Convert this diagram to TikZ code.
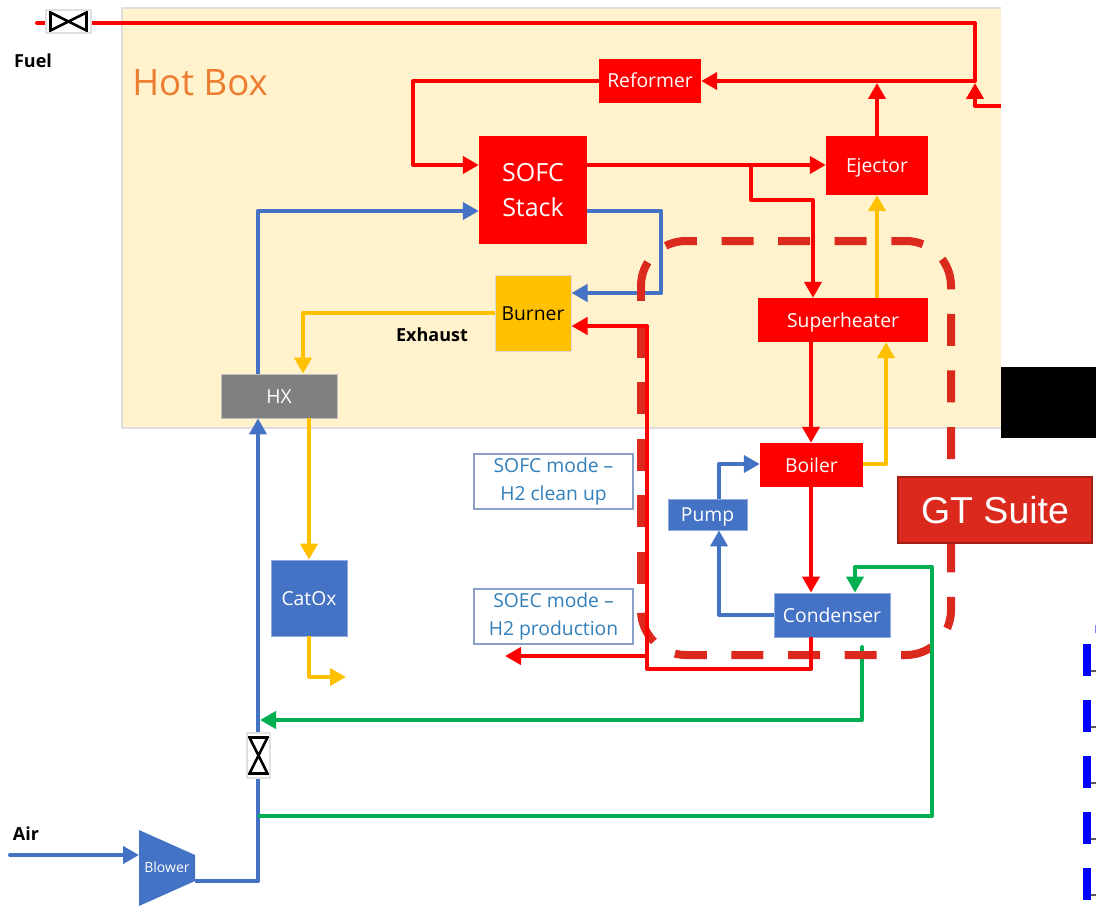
\documentclass[tikz,border=0pt]{standalone}
\usepackage{fontspec}
\setmainfont{Open Sans}
\newfontfamily\arialfont{Liberation Sans}
\usetikzlibrary{arrows.meta}
\definecolor{flowred}{HTML}{FF0000}
\definecolor{flowblue}{HTML}{4472C4}
\definecolor{flowyellow}{HTML}{FFC000}
\definecolor{flowgreen}{HTML}{00B050}
\definecolor{suitered}{HTML}{DC291E}
\definecolor{hotfill}{HTML}{FFF2CC}
\definecolor{hottext}{HTML}{ED7D31}
\tikzset{
  unit box/.style={
    rectangle, inner sep=0pt, text=white, font=\fontsize{19.3}{22}\selectfont,
    text height=18pt, text depth=4pt
  },
  red box/.style={unit box, fill=flowred},
  blue box/.style={unit box, fill=flowblue, draw=flowblue!60!white, line width=0.8pt},
  mode box/.style={
    rectangle, draw=flowblue!70!gray!70!white, fill=white, line width=1.2pt, inner sep=0pt,
    minimum width=159pt, minimum height=55pt, align=center, text=flowblue!80!cyan!90!black,
    font=\fontsize{19.3}{28}\selectfont
  },
  plain label/.style={inner sep=0pt, font=\bfseries\fontsize{18}{20}\selectfont},
  flow/.style={
    line width=4pt, line join=round,
    -{Triangle[length=16pt,width=17pt]}
  },
  pipe/.style={line width=4pt, line join=round},
  fuel valve/.style={
    rectangle, draw=black!12, fill=white, line width=1.5pt, inner sep=0pt,
    minimum width=45pt, minimum height=23pt,
    path picture={
      \draw[black, line width=2.6pt, shift={(path picture bounding box.center)}]
      (-18,-9) -- (18,9) -- (18,-9) -- (-18,9) -- cycle;
    }
  },
  air valve/.style={
    rectangle, draw=black!12, fill=white, line width=1.5pt, inner sep=0pt,
    minimum width=23pt, minimum height=45pt,
    path picture={
      \draw[black, line width=2.6pt, shift={(path picture bounding box.center)}]
      (-9,-18) -- (9,18) -- (-9,18) -- (9,-18) -- cycle;
    }
  },
  suite dash/.style={
    draw=suitered, line width=8pt, dash pattern=on 32pt off 24.6pt
  }
}
\begin{document}
\begin{tikzpicture}[x=1pt,y=-1pt]
\useasboundingbox (0,0) rectangle (1096,907);
% ------------------------------------------------
% hot box and the pieces cut off at the right
% ------------------------------------------------
\fill[black!13] (121,7) rectangle (1001,429);
\fill[hotfill] (123,9) rectangle (1001,427);
\node[inner sep=0pt, text=hottext, font=\fontsize{36.5}{40}\selectfont]
  (hotbox) at (200,83) {Hot Box};
\fill[black] (1001,367) rectangle (1096,438);
\foreach \y in {644,700,756,812,868}{
  \fill[blue] (1083,\y) rectangle (1091,\y+32);
  \fill[black!65] (1091,\y+26) rectangle (1096,\y+28);
}
\fill[blue!50] (1095,625) rectangle (1096,633);

% ------------------------------------------------
% units
% ------------------------------------------------
\node[red box, minimum width=102pt, minimum height=44pt] (reformer) at (650,81) {Reformer};
\node[rectangle, fill=flowred, inner sep=0pt, text=white, minimum width=108pt, minimum height=108pt,
  align=center, font=\fontsize{25}{35}\selectfont] (sofc) at (533,190) {SOFC\\Stack};
\node[red box, minimum width=102pt, minimum height=59pt] (ejector) at (877,165.5) {Ejector};
\node[red box, minimum width=170pt, minimum height=44pt] (superheater) at (843,320) {Superheater};
\node[red box, minimum width=103pt, minimum height=44pt] (boiler) at (811.5,465) {Boiler};
\node[unit box, fill=flowyellow, draw=black!15, line width=1pt, text=black,
  minimum width=76pt, minimum height=76pt] (burner) at (533,313) {Burner};
\node[unit box, fill=black!50, draw=black!25, line width=0.8pt, minimum width=116pt, minimum height=44pt] (hx) at (279,396) {HX};
\node[blue box, minimum width=79pt, minimum height=31pt] (pump) at (707.5,514.5) {Pump};
\node[blue box, minimum width=116pt, minimum height=44pt] (condenser) at (832,615) {Condenser};
\node[blue box, minimum width=76pt, minimum height=76pt] (catox) at (309,598) {CatOx};
\fill[flowblue] (139,830) -- (195,855) -- (195,881) -- (139,906) -- cycle;
\node[inner sep=0pt, text=white, font=\fontsize{14}{16}\selectfont] (blower) at (167,867) {Blower};
\node[mode box] (sofcmode) at (553.5,481.5) {SOFC mode --\\H2 clean up};
\node[mode box] (soecmode) at (553.5,616.5) {SOEC mode --\\H2 production};
\node[plain label] (fuel) at (33,61) {Fuel};
\node[plain label] (air) at (26,834) {Air};
\node[plain label] (exhaust) at (432,335) {Exhaust};

% ------------------------------------------------
% blue and yellow streams
% ------------------------------------------------
\coordinate (airin) at (10,855);
\coordinate (blowerin) at (139,855);
\coordinate (blowerout) at (195,881);
\draw[flow, flowblue, line cap=round] (airin) -- (blowerin);
\draw[flow, flowblue] (blowerout) -- (258,881) -- (hx.south -| 258,0);
\draw[flow, flowblue] (hx.north -| 258,0) -- (258,211) -- (sofc.west |- 0,211);
\draw[flow, flowblue] (sofc.east |- 0,211) -- (661,211) -- (661,293) -- (burner.east |- 0,293);
\draw[flow, flowblue] (condenser.west) -- (719,615) -- (pump.south -| 719,0);
\draw[flow, flowblue] (pump.north -| 719,0) -- (719,464) -- (boiler.west |- 0,464);
\draw[flow, flowyellow] (burner.west) -- (303,313) -- (hx.north -| 303,0);
\draw[flow, flowyellow] (hx.south -| 309,0) -- (catox.north -| 309,0);
\draw[flow, flowyellow] (catox.south -| 309,0) -- (309,677) -- (346,677);
\draw[flow, flowyellow] (superheater.north -| 877,0) -- (ejector.south -| 877,0);
\draw[flow, flowyellow] (boiler.east |- 0,464) -- (886,464) -- (superheater.south -| 886,0);

% ------------------------------------------------
% red streams above the hot box line
% ------------------------------------------------
\coordinate (fuelin) at (37,23);
\coordinate (recycle) at (1001,106);
\draw[pipe, flowred, line cap=round] (fuelin) -- (975,23) -- (975,81);
\draw[flow, flowred] (975,81) -- (reformer.east);
\draw[flow, flowred] (recycle) -- (975,106) -- (975,83);
\draw[flow, flowred] (ejector.north) -- (877,83);
\draw[flow, flowred] (reformer.west) -- (413,81) -- (413,165) -- (sofc.west |- 0,165);
\draw[flow, flowred] (sofc.east |- 0,165) -- (ejector.west |- 0,165);
\draw[flow, flowred] (751,165) -- (751,200) -- (813,200) -- (superheater.north -| 813,0);
\draw[flow, flowred] (superheater.south -| 811,0) -- (boiler.north -| 811,0);
\draw[flow, flowred] (boiler.south -| 811,0) -- (condenser.north -| 811,0);

% ------------------------------------------------
% green stream under the dashes
% ------------------------------------------------
\coordinate (greenout) at (862,647);
\draw[flow, flowgreen, line cap=round] (greenout) -- (862,720) -- (260,720);

% ------------------------------------------------
% dashed region and the GT Suite tag
% ------------------------------------------------
\draw[suite dash, rounded corners=45pt]
  (641,293) -- (641,241) -- (951,241) -- (951,655) -- (641,655) -- (641,608);
\draw[suite dash] (641,584) -- (641,293);
\node[rectangle, fill=suitered, draw=suitered!75!black, line width=1.5pt, inner sep=0pt, text=white,
  minimum width=194pt, minimum height=66pt, font=\arialfont\fontsize{37.5}{40}\selectfont]
  (gtsuite) at (995,510) {GT Suite};

% ------------------------------------------------
% streams drawn over the dashes
% ------------------------------------------------
\draw[flow, flowgreen] (258,816) -- (932,816) -- (932,567) -- (855,567) -- (condenser.north -| 855,0);
\draw[flow, flowred] (condenser.south -| 811,0) -- (811,669) -- (647,669) -- (647,326) -- (burner.east |- 0,326);
\draw[flow, flowred] (647,656) -- (505,656);

% ------------------------------------------------
% valves
% ------------------------------------------------
\node[fuel valve] (fuelvalve) at (68.5,21.5) {};
\node[air valve] (airvalve) at (258.5,755.5) {};
\end{tikzpicture}
\end{document}
